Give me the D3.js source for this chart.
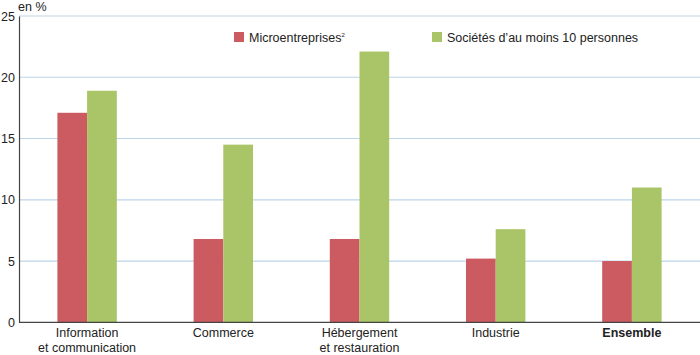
<!DOCTYPE html>
<html><head><meta charset="utf-8">
<script src="https://cdn.jsdelivr.net/npm/d3@7"></script>
<style>body{margin:0;background:#fff}svg{display:block}text{font-family:"Liberation Sans",Arial,sans-serif;fill:#222}</style>
</head><body><svg id="c" width="700" height="355"></svg>
<script>
const categories = [["Information","et communication"],["Commerce"],["Hébergement","et restauration"],["Industrie"],["Ensemble"]];
const categoryKeys = ["info","commerce","heberg","industrie","ensemble"];
const seriesNames = ["Microentreprises","Sociétés d’au moins 10 personnes"];
const micro = [17.1, 6.8, 6.8, 5.2, 5.0];
const societes = [18.9, 14.5, 22.1, 7.6, 11.0];
const yTicks = [0,5,10,15,20,25];
const colors = ["#cc5b61","#a9c567"];

(function(){
const svg = d3.select("#c");
const fs = "12.5px";
const mLeft = 19, mRight = 700, mTop = 16, mBottom = 322.3;
const x = d3.scaleBand().domain(categoryKeys).range([mLeft, mRight]).padding(0);
const y = d3.scaleLinear().domain([0,25]).range([mBottom, mTop]);
const bw = 29.7;

// gridlines
svg.append("g").selectAll("line").data(yTicks.filter(d=>d>0)).join("line")
  .attr("x1", mLeft).attr("x2", mRight)
  .attr("y1", d=>y(d)).attr("y2", d=>y(d))
  .attr("stroke","#bcd5e8").attr("stroke-width",1.2);

// bars
const series = [micro, societes];
series.forEach((vals, si) => {
  svg.append("g").selectAll("rect").data(vals).join("rect")
    .attr("x", (d,i)=> x(categoryKeys[i]) + x.bandwidth()/2 - bw + si*bw)
    .attr("width", bw)
    .attr("y", d=>y(d))
    .attr("height", d=>y(0)-y(d))
    .attr("fill", colors[si]);
});

// axes
const yAxis = d3.axisLeft(y).tickValues(yTicks).tickSize(0).tickPadding(4);
const gy = svg.append("g").attr("transform",`translate(${mLeft},0)`).call(yAxis);
gy.select(".domain").attr("stroke","#444").attr("stroke-width",1.2);
gy.selectAll("text").style("font-size",fs).attr("fill","#222")
  .attr("font-family","Liberation Sans, Arial, sans-serif");
svg.append("line").attr("x1",mLeft).attr("x2",mRight).attr("y1",y(0)).attr("y2",y(0))
  .attr("stroke","#444").attr("stroke-width",1.2);

svg.append("text").attr("x",18).attr("y",11).style("font-size",fs).text("en %");

// x labels
const gx = svg.append("g");
categoryKeys.forEach((k,i)=>{
  const t = gx.append("text").attr("x", x(k)+x.bandwidth()/2).attr("y", 337)
    .attr("text-anchor","middle").style("font-size",fs);
  if (k==="ensemble") t.style("font-weight","bold");
  categories[i].forEach((line,j)=>{
    t.append("tspan").attr("x", x(k)+x.bandwidth()/2).attr("dy", j===0?0:14.5).text(line);
  });
});

// legend
const legX = [234, 432];
seriesNames.forEach((n,i)=>{
  svg.append("rect").attr("x",legX[i]).attr("y",32).attr("width",10).attr("height",10).attr("fill",colors[i]);
  const t = svg.append("text").attr("x",legX[i]+15).attr("y",42).style("font-size",fs).text(n);
  if (i===0) t.append("tspan").attr("dy",-5).style("font-size","6px").text("2");
});
})();
</script></body></html>
